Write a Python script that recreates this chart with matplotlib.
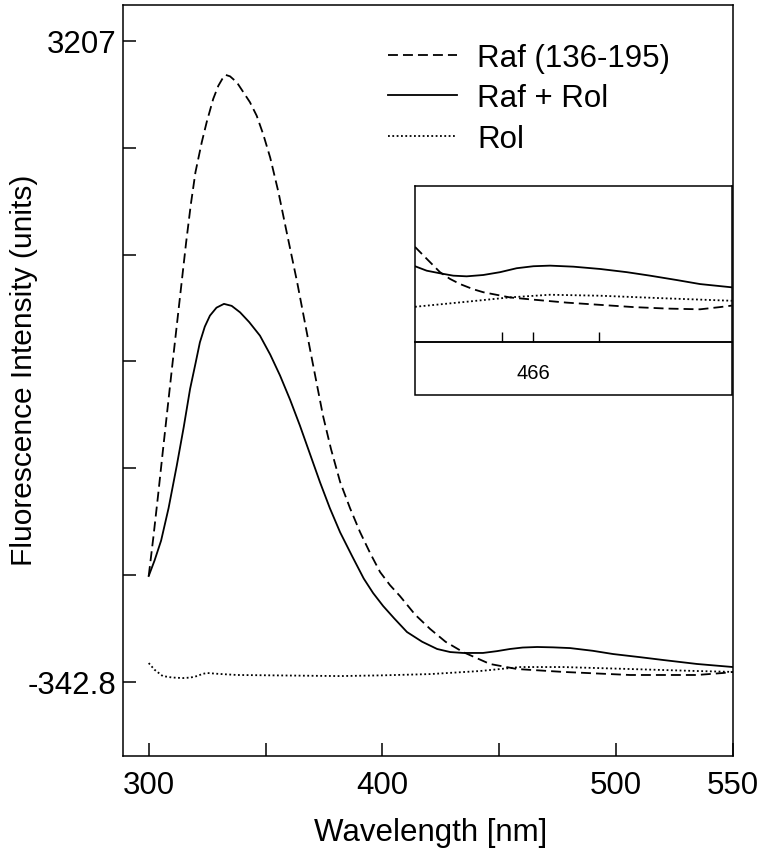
import matplotlib
matplotlib.use("Agg")
import matplotlib.pyplot as plt
from matplotlib.patches import Rectangle

plt.rcParams['font.family'] = ['Liberation Sans', 'DejaVu Sans']

# ---------------- data ----------------
wl_raf = [300, 302, 304, 306, 308, 310, 312, 314, 316, 318, 320, 322.7, 324.8,
          327.6, 329.8, 331.5, 332.9, 334.8, 337.7, 340.5, 343.3, 346.2, 349, 352,
          355.5, 359, 363.5, 369, 374.6, 378, 381.9, 386.1, 390.4, 394.7, 399,
          403.2, 407.5, 414, 420.4, 427, 434.5, 446, 457.6, 477.3, 505.9, 534.6,
          545.7, 550]
int_raf = [244, 460, 690, 930, 1165, 1400, 1630, 1860, 2090, 2300, 2480, 2646, 2757,
           2886, 2959, 2997, 3019, 3011, 2978, 2923, 2868, 2793, 2690, 2560,
           2370, 2150, 1872, 1501, 1130, 947, 765, 621, 488, 372, 266,
           194, 133, 30, -49, -120, -177, -243, -271, -287, -304, -304,
           -293, -287]

wl_rafrol = [300, 302.5, 305.3, 308.5, 312, 315, 317.7, 320, 321.9, 324, 326.2, 329,
             332.2, 335.5, 339.1, 343, 347.6, 352, 356.2, 360.5, 364.7, 369, 373.3,
             377.5, 381.9, 387, 392, 396, 400.3, 405, 410.5, 417, 423.4, 429, 434.5,
             443, 449, 454.6, 460, 466.2, 473, 480.3, 490, 498.7, 510, 520.1, 534.6,
             550]
int_rafrol = [244, 330, 440, 620, 855, 1070, 1280, 1420, 1538, 1625, 1686, 1730,
              1751, 1740, 1704, 1650, 1575, 1470, 1354, 1220, 1077, 920, 763,
              620, 486, 355, 230, 150, 78, 10, -66, -120, -160, -177, -182,
              -182, -172, -160, -152, -149, -151, -155, -170, -188, -205, -221, -243,
              -260]

wl_rol = [300, 302.5, 306, 310, 314.7, 318, 320.7, 323, 325, 330, 337.8, 360, 381.9,
          400, 420.4, 441.8, 458.9, 477.3, 506, 534.6, 550]
int_rol = [-238, -275, -310, -318, -321, -318, -310, -298, -293, -298, -304, -307, -310,
           -306, -299, -282, -260, -260, -271, -282, -287]

# inset (zoomed region around 466 nm)
inset_wl_raf = [405.5, 411.5, 418.3, 423.4, 428.6, 435.4, 440.5, 454.2, 466.2, 483.3,
                500.4, 517.5, 534.6, 551.6, 561.9, 567.9]
inset_raf = [-206, -222, -240, -249, -256, -263, -267, -274, -277, -281,
             -284, -287, -289, -290, -287, -285]
inset_wl_rafrol = [405.5, 411.5, 418.3, 425.1, 432, 440.5, 449.1, 457.6, 466.2, 474.7,
                   486.7, 500.4, 514.1, 526, 539.7, 551.6, 567.9]
inset_rafrol = [-232, -238, -241.5, -244.7, -245.6, -243.8, -240, -234.7, -232, -231.2,
                -232.6, -235.7, -240, -244.7, -250.6, -256, -260.4]
inset_wl_rol = [405.5, 432, 454.2, 474.7, 500.4, 534.6, 567.9]
inset_rol = [-286.6, -279.8, -273.9, -270.4, -271.7, -275.3, -278.5]

series_labels = ['Raf (136-195)', 'Raf + Rol', 'Rol']

x_ticks = [300, 350, 400, 450, 500, 550]
x_tick_labels = ['300', '', '400', '', '500', '550']
y_ticks = [-342.8, 248.9, 840.5, 1432.1, 2023.8, 2615.4, 3207]
y_tick_labels = ['-342.8', '', '', '', '', '', '3207']
inset_ticks = [450, 466, 500]
inset_tick_labels = ['', '466', '']

# ---------------- figure ----------------
W, H = 766, 853
fig = plt.figure(figsize=(W / 100, H / 100), dpi=100)


def fx(px):
    return px / W


def fy(py):
    return 1 - py / H


dash = (0, (5.5, 2.8))
dot = (0, (1, 1.4))
LW = 1.3
FS = 22.5

ax = fig.add_axes([fx(123), fy(757), fx(733) - fx(123), fy(6) - fy(757)])
ax.plot(wl_raf, int_raf, color='black', lw=LW, ls=dash, label=series_labels[0])
ax.plot(wl_rafrol, int_rafrol, color='black', lw=LW, ls='-', label=series_labels[1])
ax.plot(wl_rol, int_rol, color='black', lw=LW, ls=dot, label=series_labels[2])
ax.set_xlim(289, 550)
ax.set_ylim(-752.6, 3406)
ax.set_xticks(x_ticks)
ax.set_xticklabels(x_tick_labels)
ax.set_yticks(y_ticks)
ax.set_yticklabels(y_tick_labels)
ax.tick_params(direction='in', length=9.5, width=1.1, labelsize=FS)
ax.tick_params(axis='x', pad=10)
ax.tick_params(axis='y', pad=5)
for s in ax.spines.values():
    s.set_linewidth(1.1)

ax.set_xlabel('Wavelength [nm]', fontsize=FS)
ax.xaxis.set_label_coords(0.505, -0.081)
ax.set_ylabel('Fluorescence Intensity (units)', fontsize=21.5)
ax.yaxis.set_label_coords(-0.139, 0.515)

ax.legend(loc='upper left', bbox_to_anchor=(fx(388), fy(44)),
          bbox_transform=fig.transFigure, frameon=False, fontsize=FS,
          handlelength=2.2, handletextpad=0.65, labelspacing=0.33,
          borderpad=0, borderaxespad=0)

# ---------------- inset ----------------
axi = fig.add_axes([fx(415), fy(343), fx(732) - fx(415), fy(187) - fy(343)])
axi.plot(inset_wl_raf, inset_raf, color='black', lw=LW, ls=dash)
axi.plot(inset_wl_rafrol, inset_rafrol, color='black', lw=LW, ls='-')
axi.plot(inset_wl_rol, inset_rol, color='black', lw=LW, ls=dot)
axi.set_xlim(405.5, 568)
axi.set_ylim(-334, -124)
axi.set_yticks([])
axi.set_xticks(inset_ticks)
axi.set_xticklabels(inset_tick_labels)
axi.tick_params(direction='in', length=7, width=1.0, labelsize=14.5, pad=15)
for s in axi.spines.values():
    s.set_linewidth(1.1)

fig.add_artist(Rectangle((fx(415), fy(396)), fx(732) - fx(415), fy(343) - fy(396),
                         transform=fig.transFigure, fill=False, lw=1.1, ec='black'))

fig.savefig('out.png', dpi=100)
